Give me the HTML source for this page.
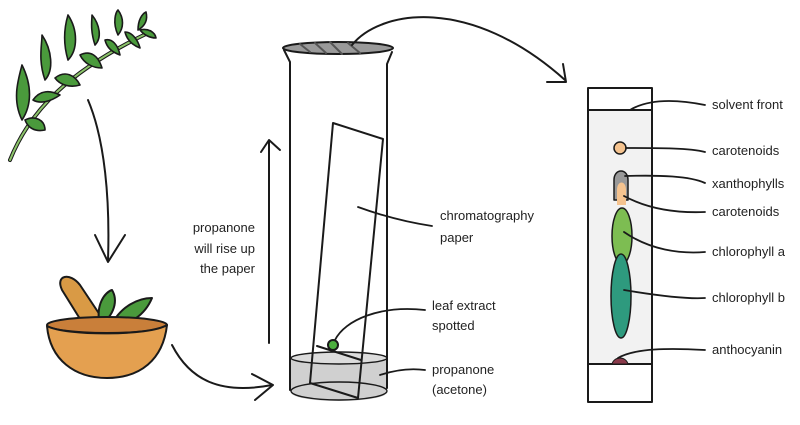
<!DOCTYPE html>
<html><head><meta charset="utf-8"><style>
body{margin:0;background:#fff;width:800px;height:420px;overflow:hidden}
svg text{font-family:"Liberation Sans",sans-serif;font-size:13px;fill:#222}
</style></head><body>
<svg width="800" height="420" viewBox="0 0 800 420" stroke-linecap="round" stroke-linejoin="round">
<g stroke="#1a1a1a" stroke-width="1.6">
<path d="M10,160 C30,110 70,70 150,32" fill="none" stroke="#1a1a1a" stroke-width="4"/>
<path d="M10,160 C30,110 70,70 150,32" fill="none" stroke="#8cc46a" stroke-width="2"/>
<g fill="#4a9a3c">
<path d="M22,120 C12,100 18,80 22,65 C32,85 32,105 22,120Z"/>
<path d="M25,120 C35,115 45,120 45,130 C35,132 28,128 25,120Z"/>
<path d="M33,100 C40,90 50,90 60,95 C50,102 40,104 33,100Z"/>
<path d="M45,80 C38,60 42,45 42,35 C52,50 54,70 45,80Z"/>
<path d="M55,78 C65,70 75,75 80,85 C70,88 60,85 55,78Z"/>
<path d="M68,60 C62,40 65,25 68,15 C78,30 78,50 68,60Z"/>
<path d="M80,55 C90,50 98,55 102,68 C92,68 84,63 80,55Z"/>
<path d="M95,45 C90,30 92,20 92,15 C100,25 102,38 95,45Z"/>
<path d="M105,40 C112,38 118,45 120,55 C112,52 107,48 105,40Z"/>
<path d="M118,35 C112,22 116,12 118,10 C124,18 124,28 118,35Z"/>
<path d="M125,32 C132,32 138,40 140,48 C132,45 127,40 125,32Z"/>
<path d="M138,30 C138,20 142,14 146,12 C148,20 145,26 138,30Z"/>
<path d="M140,30 C148,28 155,32 156,38 C150,38 144,35 140,30Z"/>
</g></g>
<g fill="none" stroke="#1a1a1a" stroke-width="2">
<path d="M88,100 C105,140 110,200 108,260"/><path d="M95,235 L108,262 L125,235"/>
</g>
<g stroke="#1a1a1a" stroke-width="2">
<path d="M62,290 C55,275 70,272 80,285 L110,330 L90,335 Z" fill="#d99a45"/>
<path d="M100,325 C95,305 105,292 112,290 C118,300 115,315 100,325Z" fill="#4a9a3c"/>
<path d="M110,328 C120,305 140,298 152,298 C145,315 130,325 110,328Z" fill="#4a9a3c"/>
<ellipse cx="107" cy="325" rx="60" ry="8" fill="#c97f3a"/>
<path d="M47,326 C50,360 75,378 107,378 C140,378 163,360 167,325 C150,336 65,336 47,326Z" fill="#e4a050"/>
</g>
<g fill="none" stroke="#1a1a1a" stroke-width="2">
<path d="M172,345 C190,380 220,395 272,385"/><path d="M252,374 L273,385 L255,400"/>
</g>
<g fill="none" stroke="#1a1a1a" stroke-width="2">
<path d="M269,343 L269,142"/><path d="M261,152 L269,140 L280,150"/>
</g>
<text x="255" y="232" text-anchor="end">propanone</text>
<text x="255" y="253" text-anchor="end">will rise up</text>
<text x="255" y="273" text-anchor="end">the paper</text>
<g stroke="#1a1a1a" stroke-width="2" fill="none">
<path d="M291,385 C291,372 387,372 387,385 L387,392 C387,404 291,404 291,392Z" fill="#d0d0d0" stroke="none"/>
<path d="M291,358 C300,352 380,352 387,358 L387,388 L291,388Z" fill="#d0d0d0" stroke="none"/>
<ellipse cx="339" cy="358" rx="48" ry="6" fill="#dcdcdc" stroke-width="1.4"/>
<ellipse cx="339" cy="391" rx="48" ry="9" stroke-width="1.4"/>
<polygon points="333,123 383,139 358,398 310,383" fill="none"/>
<path d="M317,346 L361,360" /><circle cx="333" cy="345" r="5" fill="#4caf3e"/>
<ellipse cx="338" cy="48" rx="55" ry="6" fill="#9a9a9a"/>
<path d="M300,44 L310,52 M315,43 L326,53 M330,42 L342,54 M348,43 L360,53" stroke="#555" stroke-width="2"/>
<path d="M284,50 L290,62 L290,390 M392,52 L387,64 L387,388"/>
</g>
<g fill="none" stroke="#1a1a1a" stroke-width="2">
<path d="M352,45 C380,10 470,-5 565,80"/><path d="M547,82 L566,82 L563,64"/>
</g>
<g fill="none" stroke="#1a1a1a" stroke-width="1.8">
<path d="M358,207 C380,215 405,222 432,226"/>
<path d="M335,340 C345,320 380,305 425,310"/>
<path d="M380,375 C395,370 410,368 425,370"/>
</g>
<text x="440" y="220">chromatography</text>
<text x="440" y="242">paper</text>
<text x="432" y="310">leaf extract</text>
<text x="432" y="330">spotted</text>
<text x="432" y="374">propanone</text>
<text x="432" y="394">(acetone)</text>
<g stroke="#1a1a1a" stroke-width="2">
<rect x="588" y="88" width="64" height="314" fill="#fff"/>
<rect x="589" y="110" width="62" height="254" fill="#f2f2f2" stroke="none"/>
<path d="M588,110 L652,110 M588,364 L652,364"/>
<circle cx="620" cy="148" r="6" fill="#f5c38f" stroke-width="1.5"/>
<path d="M614,200 L614,180 C614,168 628,168 628,180 L628,200Z" fill="#999" stroke-width="1.5"/>
<path d="M617,205 L617,190 C617,180 626,180 626,190 L626,205Z" fill="#f5c38f" stroke="none"/>
<ellipse cx="622" cy="236" rx="10" ry="28" fill="#7dbd52" stroke-width="1.5"/>
<ellipse cx="621" cy="296" rx="10" ry="42" fill="#2e9a7e" stroke-width="1.5"/>
<path d="M612,364 C614,356 626,356 628,364Z" fill="#8a3a4a" stroke-width="1"/>
</g>
<g fill="none" stroke="#1a1a1a" stroke-width="1.8">
<path d="M630,110 C650,98 680,100 705,105"/>
<path d="M626,148 C660,148 690,148 705,152"/>
<path d="M625,176 C660,175 690,176 705,183"/>
<path d="M624,196 C650,210 680,213 705,212"/>
<path d="M624,232 C650,250 680,254 705,252"/>
<path d="M624,290 C660,296 690,299 705,298"/>
<path d="M618,358 C635,348 670,348 705,350"/>
</g>
<text x="712" y="109">solvent front</text>
<text x="712" y="155">carotenoids</text>
<text x="712" y="188">xanthophylls</text>
<text x="712" y="216">carotenoids</text>
<text x="712" y="256">chlorophyll a</text>
<text x="712" y="302">chlorophyll b</text>
<text x="712" y="354">anthocyanin</text>
</svg>
</body></html>
